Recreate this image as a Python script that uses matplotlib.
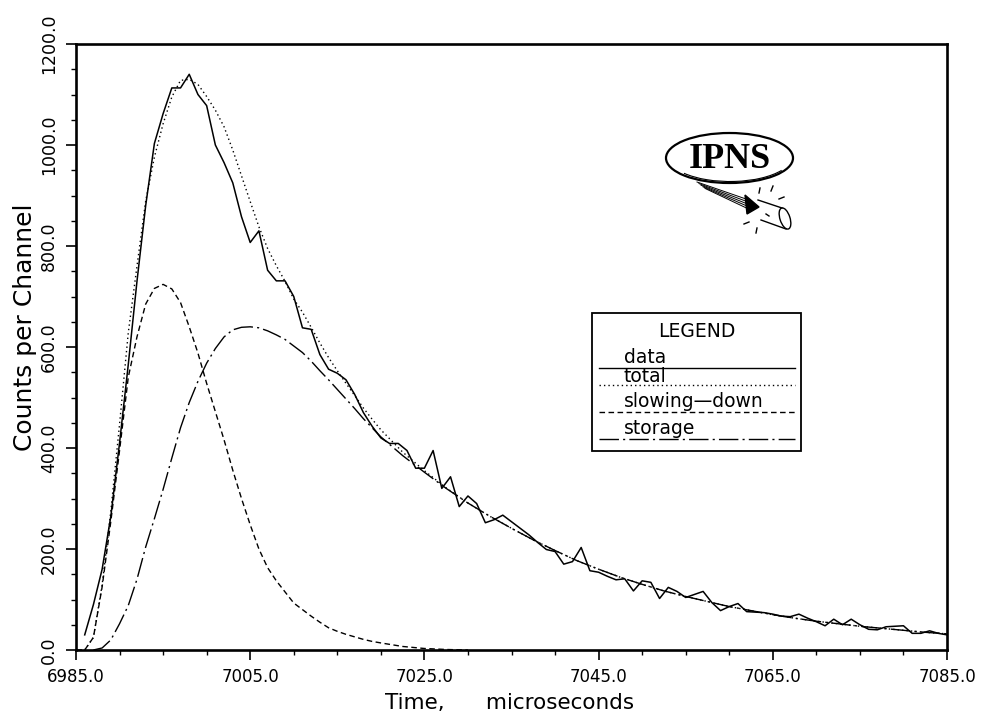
import numpy as np
import matplotlib
matplotlib.use("Agg")
import matplotlib.pyplot as plt
from matplotlib.patches import Ellipse, Arc, Rectangle, Polygon
from matplotlib.ticker import FixedLocator, MultipleLocator, FormatStrFormatter

# measured spectrum, one value per 1 us channel
time_data = np.arange(6986, 7086)
counts = [30, 90, 160, 265, 410, 565, 730, 880, 1003, 1062,
          1113, 1113, 1140, 1100, 1078, 1000, 965, 925, 858, 807,
          830, 752, 731, 731, 700, 638, 635, 585, 556, 548,
          535, 506, 470, 443, 420, 409, 409, 395, 360, 360,
          395, 320, 343, 284, 305, 290, 252, 258, 267, 254,
          241, 228, 213, 199, 195, 170, 175, 203, 157, 154,
          146, 139, 141, 117, 137, 134, 102, 124, 116, 104,
          110, 116, 94, 78, 86, 92, 76, 75, 74, 71,
          67, 66, 71, 63, 56, 48, 61, 50, 61, 50,
          41, 40, 46, 47, 48, 33, 33, 38, 33, 30]

# fitted curves
time_fit = [6985, 6986, 6987, 6988, 6989, 6990, 6991, 6992, 6993, 6994,
            6995, 6996, 6997, 6998, 6999, 7000, 7001, 7002, 7003, 7004,
            7005, 7006, 7007, 7008, 7009, 7010, 7011, 7012, 7013, 7014,
            7015, 7016, 7017, 7018, 7019, 7020, 7022.5, 7025, 7027.5, 7030,
            7032.5, 7035, 7037.5, 7040, 7042.5, 7045, 7047.5, 7050, 7052.5, 7055,
            7057.5, 7060, 7062.5, 7065, 7067.5, 7070, 7072.5, 7075, 7077.5, 7080,
            7082.5, 7085]
slowing = [0, 0, 25, 125, 255, 395, 540, 620, 685, 716,
           724, 715, 688, 640, 588, 528, 472, 416, 356, 300,
           248, 200, 163, 137, 115, 93, 80, 67, 55, 44,
           37, 31, 26, 21, 17, 14, 7, 3, 1, 0]
storage = [0, 0, 0, 4, 20, 52, 88, 140, 204, 260,
           318, 380, 440, 490, 532, 568, 597, 620, 634, 639,
           640, 638, 632, 624, 615, 602, 589, 572, 553, 535,
           516, 497, 478, 458, 440, 422, 385, 352, 320, 291,
           265, 241, 218, 197, 177, 160, 144, 130, 117, 106,
           96, 86, 78, 70, 63, 57, 52, 47, 43, 39,
           35, 32]
total = [0, 0, 25, 129, 275, 447, 628, 760, 889, 976,
         1042, 1095, 1128, 1130, 1120, 1096, 1069, 1036, 990, 939,
         888, 838, 795, 761, 730, 695, 669, 639, 608, 579,
         553, 528, 504, 479, 457, 436, 392, 355, 321, 291,
         265, 241, 218, 197, 177, 160, 144, 130, 117, 106,
         96, 86, 78, 70, 63, 57, 52, 47, 43, 39,
         35, 32]

x_ticks = [6985, 7005, 7025, 7045, 7065, 7085]
y_ticks = [0, 200, 400, 600, 800, 1000, 1200]
legend_names = ["data", "total", "slowing\u2014down", "storage"]

style_data = "-"
style_total = (0, (1, 2.2))
style_slow = (0, (4, 2.5))
style_store = (0, (14, 3, 1.5, 3))

fig = plt.figure(figsize=(9.86, 7.21), dpi=100)
ax = fig.add_axes([76 / 986, 71 / 721, 871 / 986, 606 / 721])

ax.plot(time_data, counts, color="black", lw=1.1, ls=style_data)
ax.plot(time_fit, total, color="black", lw=1.0, ls=style_total)
ax.plot(time_fit[:len(slowing)], slowing, color="black", lw=1.0, ls=style_slow)
ax.plot(time_fit[2:], storage[2:], color="black", lw=1.0, ls=style_store)

ax.set_xlim(6985, 7085)
ax.set_ylim(0, 1200)
ax.xaxis.set_major_locator(FixedLocator(x_ticks))
ax.xaxis.set_minor_locator(MultipleLocator(5))
ax.yaxis.set_major_locator(FixedLocator(y_ticks))
ax.yaxis.set_minor_locator(MultipleLocator(50))
ax.xaxis.set_major_formatter(FormatStrFormatter("%.1f"))
ax.yaxis.set_major_formatter(FormatStrFormatter("%.1f"))

for s in ax.spines.values():
    s.set_linewidth(1.9)
ax.tick_params(which="major", direction="out", length=7, width=1.2, labelsize=12)
ax.tick_params(which="minor", direction="out", length=3.5, width=1.0)
ax.tick_params(axis="x", pad=6)
ax.tick_params(axis="y", labelrotation=90, pad=6, labelsize=12.5)
for lab in ax.get_yticklabels():
    lab.set_verticalalignment("center")

ax.set_xlabel("Time,      microseconds", fontsize=15.5, va="center")
ax.xaxis.set_label_coords(0.498, -0.087)
ax.set_ylabel("Counts per Channel", fontsize=18, va="center")
ax.yaxis.set_label_coords(-0.0586, 0.533)

# overlay in pixel coordinates for legend box and logo
ov = fig.add_axes([0, 0, 1, 1], zorder=5)
ov.set_xlim(0, 986)
ov.set_ylim(721, 0)
ov.axis("off")
ov.patch.set_visible(False)

ov.add_patch(Rectangle((592, 313), 209, 138, fill=False, lw=1.3, ec="black"))
ov.text(697, 337, "LEGEND", fontsize=13.5, ha="center", va="baseline")
text_y = [363, 382.5, 407, 434]
line_y = [367.5, 385, 411.5, 439]
styles = [style_data, style_total, style_slow, style_store]
for name, ty, ly, st in zip(legend_names, text_y, line_y, styles):
    ov.text(624, ty, name, fontsize=13.5, ha="left", va="baseline")
    ov.plot([599, 795], [ly, ly], color="black", lw=1.0, ls=st)

# IPNS logo
ov.add_patch(Ellipse((729.5, 158), 127, 50, fill=False, lw=1.6, ec="black"))
ov.add_patch(Arc((730, 156.5), 124, 50, theta1=15, theta2=160, lw=0.8, ec="black"))
ov.text(730, 159, "IPNS", fontsize=26, fontweight="bold", family="Liberation Serif",
        ha="center", va="center")
for i in range(5):
    ov.plot([697 + i * 2, 746], [182 + i * 1.6, 199 + i * 2.2], color="black", lw=0.7)
ov.add_patch(Polygon([(745, 195), (747, 214), (759, 207)], closed=True, fc="black", ec="black"))
ov.plot([758, 782], [200, 208], color="black", lw=1.0)
ov.plot([761, 786], [220, 229], color="black", lw=1.0)
ov.add_patch(Ellipse((785, 218.5), 10, 22, angle=-18, fill=False, lw=1.0, ec="black"))
sparks = [((759, 193), (760, 188)), ((771, 191), (773, 186)), ((779, 199), (784, 197)),
          ((749, 222), (744, 224)), ((757, 228), (756, 233)), ((766, 214), (769, 216))]
for a, b in sparks:
    ov.plot([a[0], b[0]], [a[1], b[1]], color="black", lw=1.0)

fig.savefig("out.png", dpi=100)
